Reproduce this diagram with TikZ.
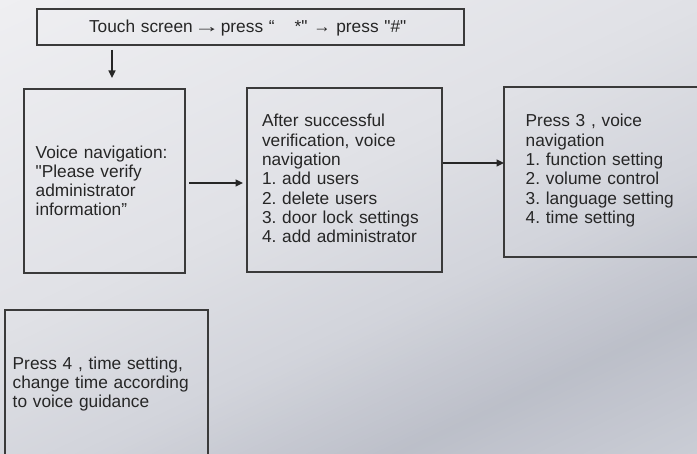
\documentclass[tikz,border=0pt]{standalone}
\usepackage{fontspec}
\setmainfont{Liberation Sans}
\usetikzlibrary{arrows.meta}
\definecolor{bgA}{HTML}{EFEFF2}
\definecolor{bgB}{HTML}{E0E1E6}
\definecolor{bgC}{HTML}{D2D4DB}
\definecolor{bgD}{HTML}{BCBFC9}
\definecolor{bgE}{HTML}{CBCED6}
\definecolor{linec}{HTML}{3A3A3A}
\definecolor{textc}{HTML}{262626}
\frenchspacing
\tikzset{
  boxnode/.style={draw=linec, line width=1.2pt, inner sep=0pt, outer sep=0pt},
  txt/.style={anchor=base west, inner sep=0pt, outer sep=0pt, text=textc, align=left, text width=220pt,
              font=\fontsize{17.3}{19.3}\selectfont},
  arr/.style={draw=textc, line width=1.4pt, -{Triangle[length=7.5pt,width=7pt]}}
}
\begin{document}
\begin{tikzpicture}[x=1pt,y=-1pt]
\useasboundingbox (0,0) rectangle (697,454);
\clip (0,0) rectangle (697,454);
% background gradient
\begin{scope}[rotate=-65]
\foreach \a/\b/\ca/\cb in {-20/0/bgA/bgA, 0/300/bgA/bgB, 300/450/bgB/bgC, 450/580/bgC/bgD, 580/716/bgD/bgE}{
  \pgfmathtruncatemacro\n{(\b-\a)/4}
  \pgfmathsetmacro\st{(\b-\a)/\n}
  \foreach \i in {0,...,\n}{
    \pgfmathsetmacro\p{100/\n*\i}
    \pgfmathsetmacro\s{\a+\st*\i}
    \fill[\cb!\p!\ca] (\s-2.6,-900) rectangle (\s+2.6,900);
  }
}
\end{scope}
% boxes
\node[boxnode, minimum width=427pt, minimum height=36pt] (top) at (250.5,27) {};
\node[boxnode, minimum width=161pt, minimum height=184pt] (b1) at (104.5,181) {};
\node[boxnode, minimum width=195pt, minimum height=184pt] (b2) at (344.5,180) {};
\node[boxnode, minimum width=216pt, minimum height=170pt] (b3) at (612,172) {};
\node[boxnode, minimum width=203pt, minimum height=170pt] (b4) at (106.5,395) {};
% texts
\node[txt, text width=400pt] (t0) at (89,33) {Touch screen\hspace{3pt}\makebox[22pt][c]{\scalebox{1.5}[1]{→}}\hspace{3pt}press “\hspace{20pt}*\textquotedbl\ → press \textquotedbl\#\textquotedbl};
\node[txt, font=\fontsize{17.3}{18.7}\selectfont] (t1) at (35.7,159) {Voice navigation:\\\textquotedbl Please verify\\administrator\\information”};
\node[txt] (t2) at (262,127) {After successful\\verification, voice\\navigation\\1. add users\\2. delete users\\3. door lock settings\\4. add administrator};
\node[txt] (t3) at (525.7,127) {Press 3 , voice\\navigation\\1. function setting\\2. volume control\\3. language setting\\4. time setting};
\node[txt, font=\fontsize{17.3}{19}\selectfont] (t4) at (12.7,370) {Press 4 , time setting,\\change time according\\to voice guidance};
% connectors
\coordinate (dx) at (112,0);
\draw[arr, shorten <=5pt, shorten >=11pt] (top.south -| dx) -- (b1.north -| dx);
\draw[arr, shorten <=4pt, shorten >=4pt] ([yshift=-2pt]b1.east) -- ([yshift=-3pt]b2.west);
\draw[arr, shorten <=1pt] ([yshift=17pt]b2.east) -- ([yshift=9pt]b3.west);
\end{tikzpicture}
\end{document}
